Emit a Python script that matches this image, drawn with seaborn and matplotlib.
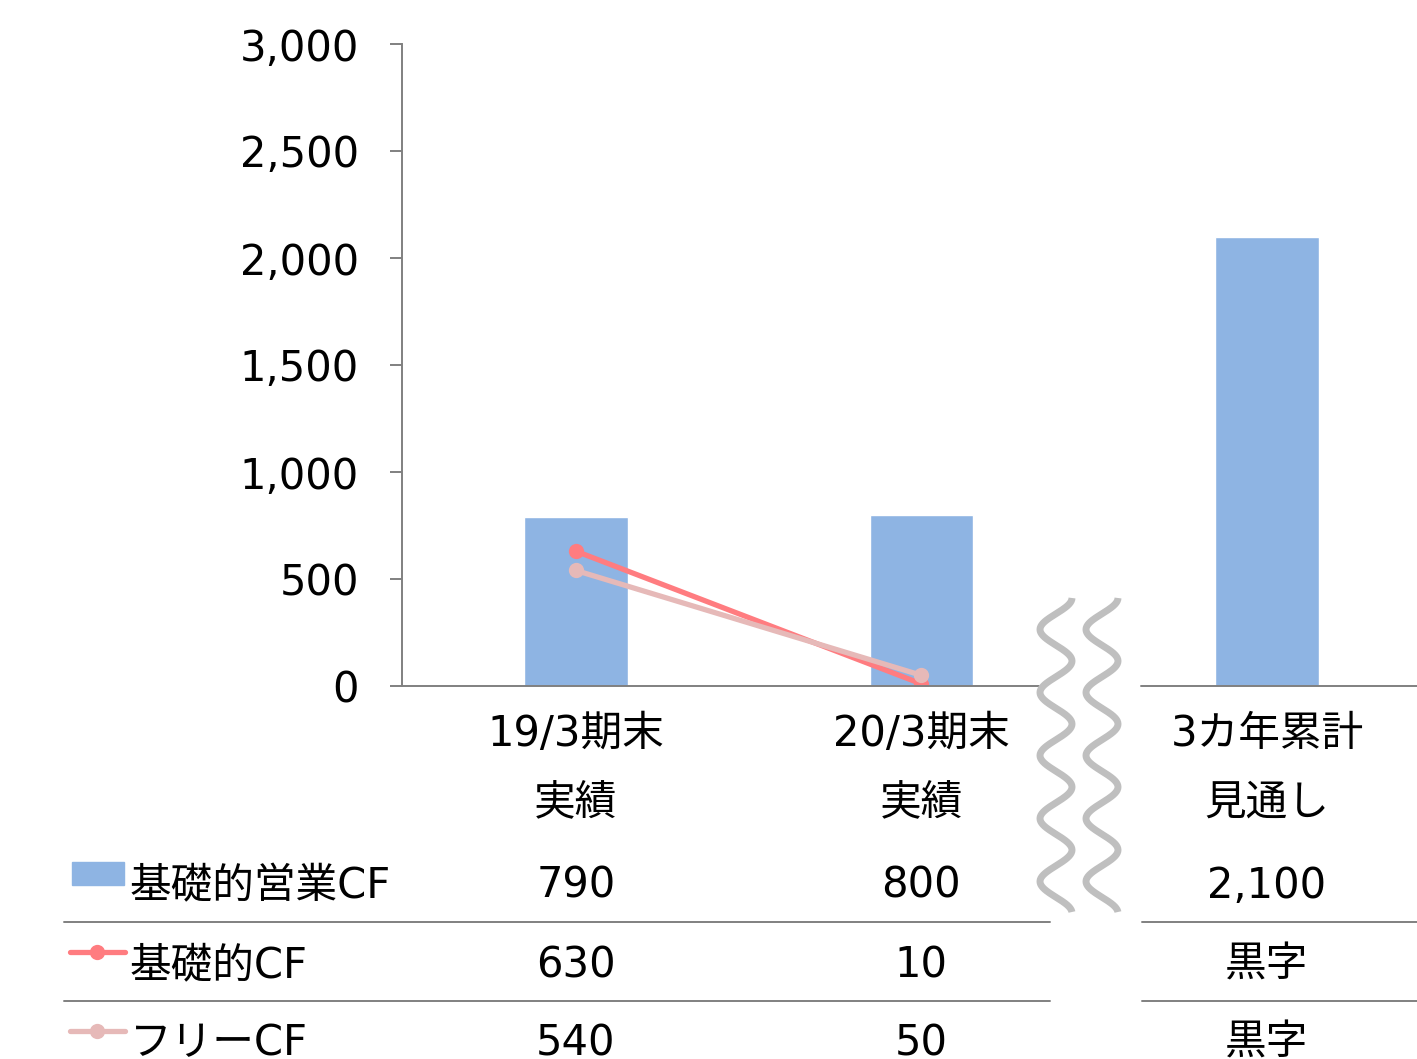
import numpy as np
import pandas as pd
import matplotlib
matplotlib.use("Agg")
import matplotlib.pyplot as plt
from matplotlib.lines import Line2D
from matplotlib.patches import Rectangle
from matplotlib.ticker import FuncFormatter
import seaborn as sns

sns.set_theme(style="white")
plt.rcParams['font.family'] = ['DejaVu Sans', 'Noto Sans CJK JP']
plt.rcParams['text.color'] = 'black'

# ---------------------------------------------------------------
# data
categories = ["19/3期末", "20/3期末", "3カ年累計"]
sublabels = ["実績", "実績", "見通し"]
op_cf = [790, 800, 2100]          # 基礎的営業CF (bars)
base_cf = [630, 10]               # 基礎的CF (line)
free_cf = [540, 50]               # フリーCF (line)
row_names = ["基礎的営業CF", "基礎的CF", "フリーCF"]
row_values = [["790", "800", "2,100"],
              ["630", "10", "黒字"],
              ["540", "50", "黒字"]]
yticks = [0, 500, 1000, 1500, 2000, 2500, 3000]

bar_color = "#8EB4E3"
base_color = "#FF7C80"
free_color = "#E6B9B8"
gray = "#808080"
wave_gray = "#BFBFBF"
FS = 30

W, H = 1417, 1059
fx = lambda px: px / W
fy = lambda py: 1 - py / H

fig = plt.figure(figsize=(W / 100, H / 100), dpi=100)
ax = fig.add_axes([fx(402), fy(686), fx(1417 - 402), 642 / H])

df = pd.DataFrame({"cat": categories, "val": op_cf})
sns.barplot(data=df, x="cat", y="val", color=bar_color, width=0.3,
            saturation=1, ax=ax)
sns.lineplot(x=[0, 1], y=base_cf, color=base_color, lw=3.8, marker="o",
             markersize=11, markeredgewidth=0, ax=ax)
sns.lineplot(x=[0, 1], y=free_cf, color=free_color, lw=3.8, marker="o",
             markersize=11, markeredgewidth=0, ax=ax)

ax.set_xlim(-0.503, 2.434)
ax.set_ylim(0, 3000)
ax.set_yticks(yticks)
ax.yaxis.set_major_formatter(FuncFormatter(lambda v, p: f"{v:,.0f}"))
ax.tick_params(axis="y", left=True, length=9, width=1.4, color=gray,
               pad=22, labelsize=FS, labelcolor="black")
ax.set_xticks([])
ax.set_xlabel("")
ax.set_ylabel("")
for s in ["top", "right", "bottom"]:
    ax.spines[s].set_visible(False)
ax.spines["left"].set_color(gray)
ax.spines["left"].set_linewidth(1.4)

# broken baseline
ax.plot([-0.503, 1.341], [0, 0], color=gray, lw=1.4, clip_on=False)
ax.plot([1.636, 2.434], [0, 0], color=gray, lw=1.4, clip_on=False)

ay = lambda py: (686 - py) / 642
xt = ax.get_xaxis_transform()
for i, (c, s) in enumerate(zip(categories, sublabels)):
    ax.text(i, ay(734), c, transform=xt, ha="center", va="center", fontsize=FS)
    ax.text(i, ay(803), s, transform=xt, ha="center", va="center", fontsize=FS)

# table rows (last row is clipped by the bottom edge, as in the source)
row_y = [886, 965, 1043]
for r, (name, vals) in enumerate(zip(row_names, row_values)):
    fig.text(fx(130), fy(row_y[r]), name, ha="left", va="center", fontsize=FS)
    for i, v in enumerate(vals):
        ax.text(i, ay(row_y[r]), v, transform=xt, ha="center", va="center",
                fontsize=FS)

# table separators
for py in [922, 1001]:
    fig.add_artist(Line2D([fx(64), fx(1050)], [fy(py), fy(py)], color=gray, lw=1.4))
    fig.add_artist(Line2D([fx(1142), fx(1417)], [fy(py), fy(py)], color=gray, lw=1.4))

# legend keys
fig.add_artist(Rectangle((fx(72), fy(885)), fx(52), 23 / H, color=bar_color,
                         transform=fig.transFigure))
for py, col in [(952, base_color), (1031, free_color)]:
    fig.add_artist(Line2D([fx(70), fx(125)], [fy(py), fy(py)], color=col, lw=3.8,
                          solid_capstyle="round"))
    fig.add_artist(Line2D([fx(97)], [fy(py)], color=col, marker="o",
                          markersize=11, markeredgewidth=0))

# wavy break mark
wy = np.linspace(598, 912, 400)
for cx in [1056, 1102]:
    wx = cx + 16 * np.cos(2 * np.pi * (wy - 598) / 63)
    fig.add_artist(Line2D(fx(wx), fy(wy), color=wave_gray, lw=5,
                          solid_capstyle="butt"))

fig.savefig("out.png", dpi=100)
